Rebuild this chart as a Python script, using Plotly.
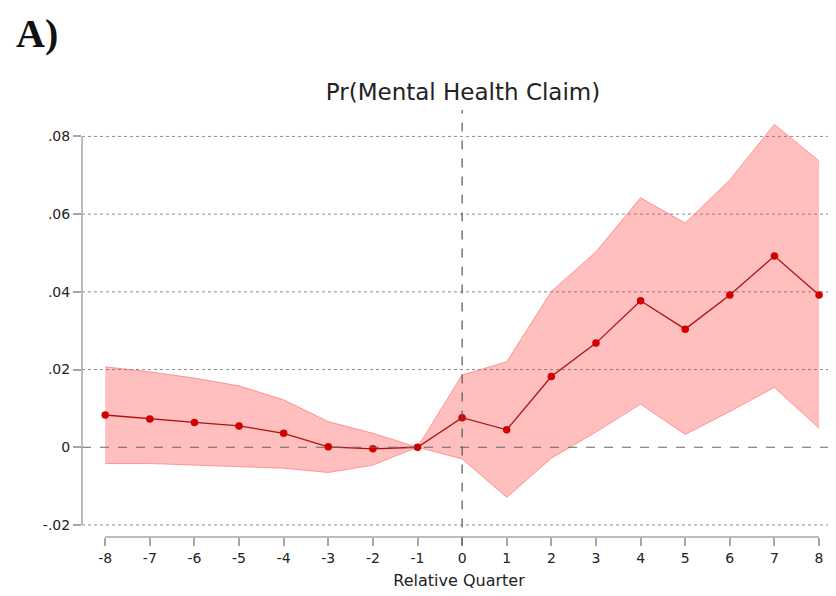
import plotly.graph_objects as go

# event-study estimates
quarters = [-8, -7, -6, -5, -4, -3, -2, -1, 0, 1, 2, 3, 4, 5, 6, 7, 8]
quarter_labels = [str(q) for q in quarters]
coef = [0.0083, 0.0073, 0.0064, 0.0055, 0.0036, 0.0001, -0.0004, 0.0,
        0.0076, 0.0045, 0.0182, 0.0268, 0.0377, 0.0304, 0.0392, 0.0492, 0.0392]
ci_upper = [0.0207, 0.0194, 0.0178, 0.0158, 0.0122, 0.0066, 0.0036, 0.0,
            0.0186, 0.0220, 0.0401, 0.0503, 0.0642, 0.0577, 0.0688, 0.0831, 0.0737]
ci_lower = [-0.0042, -0.0042, -0.0046, -0.0050, -0.0054, -0.0065, -0.0046, 0.0,
            -0.0030, -0.0129, -0.0028, 0.0039, 0.0111, 0.0033, 0.0092, 0.0154, 0.0049]

ytick_vals = [-0.02, 0, 0.02, 0.04, 0.06, 0.08]
ytick_text = ["-.02", "0", ".02", ".04", ".06", ".08"]

axis_gray = "#a6a6a6"
band_line = "rgba(255,90,90,0.55)"
band_fill = "rgba(255,60,60,0.33)"
sans = "DejaVu Sans, Liberation Sans, Arial, sans-serif"

fig = go.Figure()

# confidence band
fig.add_trace(go.Scatter(x=quarters, y=ci_upper, mode="lines",
                         line=dict(color=band_line, width=1), hoverinfo="skip"))
fig.add_trace(go.Scatter(x=quarters, y=ci_lower, mode="lines", fill="tonexty",
                         fillcolor=band_fill, line=dict(color=band_line, width=1),
                         hoverinfo="skip"))

# point estimates
fig.add_trace(go.Scatter(x=quarters, y=coef, mode="lines+markers",
                         line=dict(color="#b01010", width=1.3),
                         marker=dict(color="#d00000", size=7.5)))

# dotted grid lines (not at zero, which gets its own dashed line)
shapes = [dict(type="line", xref="paper", yref="y", x0=0, x1=1, y0=v, y1=v,
               layer="below", line=dict(color="#8c8c8c", width=1, dash="dot"))
          for v in ytick_vals if v != 0]

shapes += [
    # zero line
    dict(type="line", xref="paper", yref="y", x0=0, x1=1, y0=0, y1=0,
         line=dict(color="#666666", width=1.2, dash="dash")),
    # event line at quarter 0
    dict(type="line", xref="x", yref="paper", x0=0, x1=0, y0=-0.02, y1=1,
         line=dict(color="#555555", width=1.2, dash="dash")),
    # y axis line
    dict(type="line", xref="paper", yref="y", x0=0, x1=0, y0=-0.02, y1=0.08,
         line=dict(color=axis_gray, width=1.5)),
    # x axis line
    dict(type="line", xref="x", yref="paper", x0=-8, x1=8, y0=0, y1=0,
         line=dict(color=axis_gray, width=1.5)),
]

# page body has an 8px margin, so the figure is sized to fit the window
fig.update_layout(
    width=828, height=588,
    margin=dict(l=74, r=0, t=102, b=59),
    plot_bgcolor="white", paper_bgcolor="white",
    showlegend=False,
    font=dict(family=sans, color="#222222"),
    title=dict(text="Pr(Mental Health Claim)", x=0.5495, xanchor="center",
               y=0.857, yanchor="middle", font=dict(size=23, color="#222222")),
    shapes=shapes,
    annotations=[dict(text="<b>A)</b>", xref="paper", yref="paper",
                      x=-0.090, y=1.236, xanchor="left", yanchor="top",
                      showarrow=False,
                      font=dict(family="Liberation Serif, DejaVu Serif, serif",
                                size=40, color="#111111"))],
)

fig.update_xaxes(range=[-8.52, 8.38], tickvals=quarters, ticktext=quarter_labels,
                 ticks="outside", ticklen=8, tickcolor=axis_gray, tickwidth=1.5,
                 showgrid=False, zeroline=False, showline=False,
                 tickfont=dict(size=14),
                 title=dict(text="Relative Quarter", font=dict(size=16), standoff=10))

fig.update_yaxes(range=[-0.0231, 0.0868], tickvals=ytick_vals, ticktext=ytick_text,
                 ticks="outside", ticklen=8, tickcolor=axis_gray, tickwidth=1.5,
                 showgrid=False, zeroline=False, showline=False,
                 tickfont=dict(size=14))

fig.write_html("out.html")
